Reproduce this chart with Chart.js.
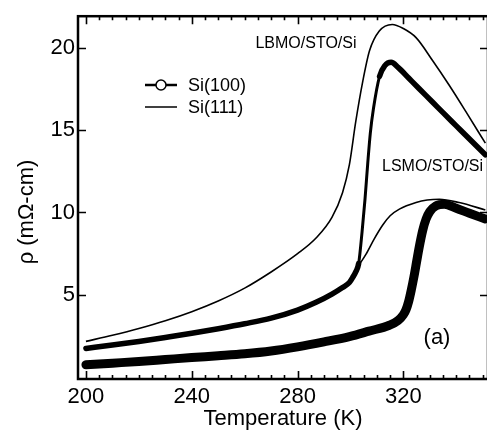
<!DOCTYPE html>
<html>
<head>
<meta charset="utf-8">
<script src="https://cdn.jsdelivr.net/npm/chart.js@4.4.1/dist/chart.umd.min.js"></script>
<style>
  html, body { margin: 0; padding: 0; background: #fff; overflow: hidden; }
  #wrap { position: relative; width: 492px; height: 438px; }
</style>
</head>
<body>
<div id="wrap"><canvas id="rhoChart"></canvas></div>
<script>
// values: temperature (K) and resistivity (mOhm-cm)
const lbmo111T = [200, 210, 220, 230, 240, 250, 260, 270, 280, 287, 293, 297, 299.6, 302, 304.6, 307.2, 310.9, 315.8, 320, 324.8, 331.1, 337.4, 343.7, 351];
const lbmo111Rho = [2.18, 2.55, 2.96, 3.43, 3.98, 4.63, 5.41, 6.39, 7.5, 8.45, 9.7, 11.2, 12.9, 15.5, 17.9, 19.8, 21.0, 21.4, 21.15, 20.6, 19.2, 17.7, 16.1, 14.2];

const lbmo100T = [200, 210, 220, 230, 240, 250, 260, 270, 280, 287, 293, 297, 299.6, 301, 302, 303.1, 304.4, 305.5, 306.5, 307.5, 308.7, 311, 313, 315.4, 318, 322, 326, 331, 335, 340, 345, 351];
const lbmo100Rho = [1.75, 1.96, 2.18, 2.42, 2.67, 2.95, 3.25, 3.59, 4.08, 4.55, 5.05, 5.45, 5.75, 6.1, 6.4, 6.9, 8.84, 10.8, 12.9, 14.8, 16.3, 18.25, 18.9, 19.1, 18.8, 18.15, 17.5, 16.7, 16.05, 15.25, 14.45, 13.5];

const lsmo111T = [200, 210, 220, 230, 240, 250, 260, 270, 280, 287, 293, 297, 299.6, 302, 305.9, 309, 312.2, 315, 318.5, 324.8, 329, 333.6, 341.1, 351];
const lsmo111Rho = [1.75, 1.96, 2.18, 2.42, 2.67, 2.95, 3.25, 3.59, 4.08, 4.55, 5.05, 5.45, 5.75, 6.5, 7.47, 8.4, 9.24, 9.8, 10.2, 10.6, 10.75, 10.8, 10.6, 10.15];

const lsmo100T = [200, 210, 220, 230, 240, 250, 260, 270, 280, 290, 299.6, 307, 314.7, 318, 320, 321, 322, 323, 324, 325, 326, 327.3, 328.6, 330, 332.3, 335.5, 340, 345, 351];
const lsmo100Rho = [0.76, 0.86, 0.96, 1.08, 1.2, 1.31, 1.43, 1.6, 1.85, 2.15, 2.47, 2.8, 3.16, 3.45, 3.8, 4.1, 4.6, 5.3, 6.1, 7.0, 7.9, 8.9, 9.6, 10.05, 10.4, 10.5, 10.25, 9.95, 9.6];

const xTicks = [200, 240, 280, 320];
const yTicks = [5, 10, 15, 20];
const legendNames = ["Si(100)", "Si(111)"];
const sampleNames = ["LBMO/STO/Si", "LSMO/STO/Si"];
const panelLabel = "(a)";

const FONT = "'Liberation Sans', Arial, Helvetica, sans-serif";
Chart.defaults.font.family = FONT;
Chart.defaults.color = "#000";

function toPoints(ts, rs) {
  return ts.map((t, i) => ({ x: t, y: rs[i] }));
}

// thinner stroke where the curve climbs steeply (dotted chain in the original)
function steepWidth(width) {
  return (seg) => {
    const dx = Math.abs(seg.p1.x - seg.p0.x);
    const dy = Math.abs(seg.p1.y - seg.p0.y);
    return dy > dx * 4 ? width : undefined;
  };
}

// frame, inward ticks, legend and labels
const decorPlugin = {
  id: "decor",
  afterDraw(chart) {
    const ctx = chart.ctx;
    const { left, right, top, bottom } = chart.chartArea;
    const xs = chart.scales.x;
    const ys = chart.scales.y;
    ctx.save();
    ctx.strokeStyle = "#000";

    // inward ticks
    ctx.lineWidth = 1.6;
    ctx.beginPath();
    for (let t = 200; t <= xs.max; t += 5) {
      const px = Math.round(xs.getPixelForValue(t)) + 0.5;
      const len = t % 40 === 0 ? 8 : 4;
      ctx.moveTo(px, bottom);
      ctx.lineTo(px, bottom - len);
      ctx.moveTo(px, top);
      ctx.lineTo(px, top + len);
    }
    yTicks.forEach((v) => {
      const py = Math.round(ys.getPixelForValue(v)) + 0.5;
      ctx.moveTo(left, py);
      ctx.lineTo(left + 8, py);
      ctx.moveTo(right, py);
      ctx.lineTo(right - 8, py);
    });
    ctx.stroke();

    // frame
    ctx.lineWidth = 2.5;
    ctx.strokeRect(left, top, right - left, bottom - top);

    // y title
    ctx.fillStyle = "#000";
    ctx.font = "22px " + FONT;
    ctx.textAlign = "center";
    ctx.textBaseline = "middle";
    ctx.save();
    ctx.translate(27, 212);
    ctx.rotate(-Math.PI / 2);
    ctx.fillText("\u03c1 (m\u03a9-cm)", 0, 0);
    ctx.restore();

    // legend
    ctx.lineWidth = 2.5;
    ctx.beginPath();
    ctx.moveTo(145, 85);
    ctx.lineTo(177, 85);
    ctx.stroke();
    ctx.beginPath();
    ctx.arc(161, 85, 5, 0, Math.PI * 2);
    ctx.fillStyle = "#fff";
    ctx.fill();
    ctx.lineWidth = 1.5;
    ctx.stroke();
    ctx.beginPath();
    ctx.moveTo(145, 107);
    ctx.lineTo(177, 107);
    ctx.stroke();
    ctx.fillStyle = "#000";
    ctx.font = "18px " + FONT;
    ctx.textAlign = "left";
    ctx.fillText(legendNames[0], 188, 86);
    ctx.fillText(legendNames[1], 188, 108);

    // sample labels
    ctx.font = "16px " + FONT;
    ctx.textAlign = "center";
    ctx.fillText(sampleNames[0], 306, 44);
    ctx.textAlign = "left";
    ctx.fillText(sampleNames[1], 382, 167);
    ctx.font = "22px " + FONT;
    ctx.textAlign = "center";
    ctx.fillText(panelLabel, 437, 338);
    ctx.restore();
  },
};

const ctx = document.getElementById("rhoChart").getContext("2d");
new Chart(ctx, {
  type: "line",
  data: {
    datasets: [
      {
        label: "LSMO Si(100)",
        data: toPoints(lsmo100T, lsmo100Rho),
        borderColor: "#000",
        borderWidth: 9,
        borderCapStyle: "round",
        pointRadius: 0,
        cubicInterpolationMode: "monotone",
      },
      {
        label: "LBMO Si(100)",
        data: toPoints(lbmo100T, lbmo100Rho),
        borderColor: "#000",
        borderWidth: 5.5,
        borderCapStyle: "round",
        borderJoinStyle: "round",
        pointRadius: 0,
        cubicInterpolationMode: "monotone",
        segment: { borderWidth: steepWidth(3) },
      },
      {
        label: "LSMO Si(111)",
        data: toPoints(lsmo111T, lsmo111Rho),
        borderColor: "#000",
        borderWidth: 1.6,
        pointRadius: 0,
        cubicInterpolationMode: "monotone",
      },
      {
        label: "LBMO Si(111)",
        data: toPoints(lbmo111T, lbmo111Rho),
        borderColor: "#000",
        borderWidth: 1.6,
        pointRadius: 0,
        cubicInterpolationMode: "monotone",
      },
    ],
  },
  options: {
    responsive: true,
    maintainAspectRatio: false,
    animation: false,
    layout: { padding: { top: 5, right: 4, left: 0, bottom: 0 } },
    plugins: { legend: { display: false }, tooltip: { enabled: false } },
    scales: {
      x: {
        type: "linear",
        min: 197,
        max: 352,
        afterBuildTicks: (scale) => { scale.ticks = xTicks.map((v) => ({ value: v })); },
        afterFit: (scale) => { scale.height = 59; },
        grid: { display: false, drawTicks: false },
        border: { display: false },
        ticks: { padding: 5, maxRotation: 0, font: { size: 22 }, color: "#000" },
        title: { display: true, text: "Temperature (K)", font: { size: 22 }, color: "#000", padding: { top: 0, bottom: 6 } },
      },
      y: {
        type: "linear",
        min: -0.1,
        max: 21.9,
        afterBuildTicks: (scale) => { scale.ticks = yTicks.map((v) => ({ value: v })); },
        afterFit: (scale) => { scale.width = 78; },
        grid: { display: false, drawTicks: false },
        border: { display: false },
        ticks: { padding: 3, font: { size: 22 }, color: "#000" },
      },
    },
  },
  plugins: [decorPlugin],
});
</script>
</body>
</html>
